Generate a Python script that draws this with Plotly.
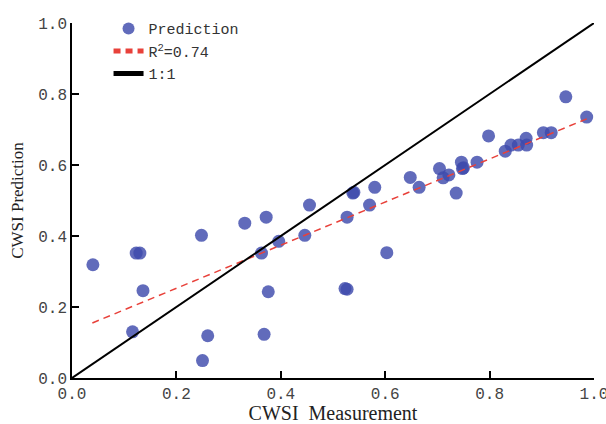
import plotly.graph_objects as go

measured = [0.040, 0.123, 0.130, 0.136, 0.116, 0.248, 0.260, 0.250, 0.331, 0.372,
            0.363, 0.396, 0.376, 0.368, 0.446, 0.455, 0.523, 0.527, 0.527, 0.538,
            0.540, 0.570, 0.580, 0.603, 0.648, 0.665, 0.704, 0.711, 0.722, 0.736,
            0.746, 0.748, 0.750, 0.776, 0.798, 0.830, 0.841, 0.855, 0.870, 0.871,
            0.903, 0.918, 0.946, 0.986]
predicted = [0.319, 0.352, 0.352, 0.246, 0.130, 0.402, 0.119, 0.049, 0.436, 0.453,
             0.352, 0.385, 0.243, 0.123, 0.402, 0.487, 0.252, 0.250, 0.453, 0.521,
             0.523, 0.487, 0.537, 0.353, 0.565, 0.537, 0.590, 0.564, 0.572, 0.521,
             0.608, 0.590, 0.592, 0.608, 0.682, 0.639, 0.656, 0.656, 0.675, 0.656,
             0.691, 0.691, 0.792, 0.735]

# Regression line end points (R^2 = 0.74)
fit_x = [0.039, 0.986]
fit_y = [0.155, 0.730]

# 1:1 reference line
ref_x = [0.0, 1.0]
ref_y = [0.0, 1.0]

tick_vals = [0.0, 0.2, 0.4, 0.6, 0.8, 1.0]
tick_text = ["0.0", "0.2", "0.4", "0.6", "0.8", "1.0"]

mono = "Liberation Mono"
serif = "Liberation Serif"

fig = go.Figure()
fig.add_trace(go.Scatter(
    x=measured, y=predicted, mode="markers", name="Prediction",
    marker=dict(size=13, color="rgba(62,74,172,0.82)", line=dict(width=0)),
))
fig.add_trace(go.Scatter(
    x=fit_x, y=fit_y, mode="lines", name="R<sup>2</sup>=0.74",
    line=dict(color="#e8413a", width=1.5, dash="7px,5px"),
))
fig.add_trace(go.Scatter(
    x=ref_x, y=ref_y, mode="lines", name="1:1",
    line=dict(color="black", width=2),
))

axis_common = dict(
    range=[0, 1], tickvals=tick_vals, ticktext=tick_text,
    showline=True, linecolor="black", linewidth=1.5,
    ticks="inside", ticklen=7, tickwidth=1.5, tickcolor="black",
    showgrid=False, zeroline=False, mirror=False,
    ticklabeloverflow="allow", automargin=False,
    tickfont=dict(family=mono, size=16, color="#444"),
)

fig.update_layout(
    width=606, height=424,
    margin=dict(l=72, r=12, t=17, b=46),
    paper_bgcolor="white", plot_bgcolor="white",
    xaxis=dict(**axis_common,
               title=dict(text="CWSI&#160; Measurement",
                          font=dict(family=serif, size=20, color="#222"),
                          standoff=9)),
    yaxis=dict(**axis_common,
               title=dict(text="CWSI Prediction",
                          font=dict(family=serif, size=17, color="#222"),
                          standoff=10)),
    legend=dict(x=0.07, y=1.03, xanchor="left", yanchor="top",
                bgcolor="rgba(0,0,0,0)",
                font=dict(family=mono, size=15, color="#333"),
                tracegroupgap=0, itemsizing="constant"),
    showlegend=True,
)

fig.write_html("out.html")
